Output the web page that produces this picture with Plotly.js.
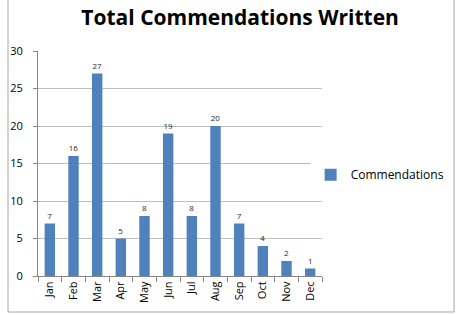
<!DOCTYPE html>
<html><head><meta charset="utf-8">
<script src="https://cdn.plot.ly/plotly-3.0.1.min.js"></script>
<style>html,body{margin:0;padding:0;background:#fff}#chart{width:460px;height:315px}</style>
</head><body><div id="chart"></div>
<script>
const months = ["Jan","Feb","Mar","Apr","May","Jun","Jul","Aug","Sep","Oct","Nov","Dec"];
const commendations = [7,16,27,5,8,19,8,20,7,4,2,1];
const yTicks = [0,5,10,15,20,25,30];

const trace = {
  type: 'bar', x: months, y: commendations, name: 'Commendations',
  marker: {color: '#4F81BD', line: {color: '#4F81BD', width: 0}},
  text: commendations.map(String), textposition: 'outside',
  textfont: {family: 'Open Sans, sans-serif', size: 8, color: '#262626'},
  cliponaxis: false
};
const layout = {
  width: 460, height: 315,
  margin: {l: 38, r: 138, t: 51, b: 39, autoexpand: false},
  paper_bgcolor: '#fff', plot_bgcolor: '#fff',
  bargap: 0.56,
  showlegend: true,
  title: {text: '<b>Total Commendations Written</b>', x: 0.522, xanchor: 'center', y: 0.943, yanchor: 'middle',
          font: {family: 'Open Sans, sans-serif', size: 21, color: '#000'}},
  legend: {x: 0.96, xanchor: 'left', y: 0.45, yanchor: 'middle',
           font: {family: 'Open Sans, sans-serif', size: 12, color: '#000'},
           itemwidth: 30, traceorder: 'normal'},
  xaxis: {type: 'category', showgrid: false, showline: true, linecolor: '#868686', linewidth: 1,
          ticks: 'outside', tickson: 'boundaries', ticklen: 5, tickcolor: '#868686',
          tickangle: -90, tickfont: {family: 'Open Sans, sans-serif', size: 11, color: '#000'}},
  yaxis: {range: [0, 30], tickvals: yTicks, showgrid: true, gridcolor: '#BFBFBF', showline: true,
          linecolor: '#868686', ticks: 'outside', ticklen: 4, tickcolor: '#868686',
          zeroline: false, tickfont: {family: 'Open Sans, sans-serif', size: 11, color: '#000'},
          ticklabelstandoff: 8},
  shapes: [{type: 'rect', xref: 'paper', yref: 'paper', x0: -0.1056, x1: 1.465, y0: -0.16, y1: 1.231,
            line: {color: '#A6A6A6', width: 1}, fillcolor: 'rgba(0,0,0,0)', layer: 'below'}]
};
Plotly.newPlot('chart', [trace], layout, {displayModeBar: false, staticPlot: true});
</script></body></html>
